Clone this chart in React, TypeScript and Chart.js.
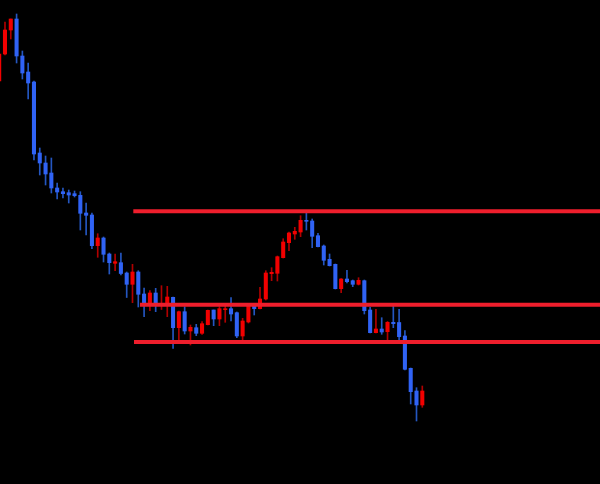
import React, { useEffect, useRef } from "react";
import { Chart, registerables } from "chart.js";

Chart.register(...registerables);

// OHLC values (points)
const opens = [419, 446, 470, 481, 444, 428, 418, 347, 337, 327, 312, 308.3, 307.3, 306.3, 304.7, 287, 285, 254.3, 262, 246, 236.7, 237.3, 227, 215.7, 228, 206, 195.7, 207, 195, 195, 202.7, 172.3, 188.3, 169, 172.3, 166.7, 175.3, 190, 181, 190.3, 191.3, 187.3, 164, 178, 194, 191.3, 201, 226.3, 226.7, 242.3, 257.3, 266, 268, 279.7, 279, 264.3, 254, 240.7, 235.7, 211.3, 221, 219.3, 215.7, 219.3, 190, 167.3, 171, 168.3, 177.7, 177.5, 164, 131.7, 109, 95];
const highs = [448, 478, 481, 486, 449, 437, 419, 352, 344, 342, 317, 312, 310, 309, 308.3, 297, 287, 266.3, 263, 247, 246, 247, 228, 235.7, 229.3, 212, 209.3, 211.7, 214.3, 213.7, 203, 189, 193.3, 175, 175.7, 178.3, 190, 190, 193.3, 195, 202.3, 188, 181.7, 196, 195, 212.7, 229.3, 232.3, 244, 261.3, 268, 272.7, 284.3, 287.3, 281, 266.7, 255, 246, 236, 221.5, 229.7, 220, 222.3, 220, 192.7, 190.7, 182.3, 178.5, 194, 190.7, 169.3, 132, 112.3, 114];
const lows = [417, 445, 461, 437, 421, 401, 340, 325, 315, 307, 301, 302, 297, 303, 270, 265, 251.3, 242.7, 238, 226, 229.3, 225, 202.5, 197.3, 193, 183.3, 189.3, 188.3, 190.5, 183.3, 151.7, 159, 166, 155, 164.3, 165.7, 175, 174.3, 174.3, 177.7, 179, 162.3, 159, 177, 185, 191, 200, 219.3, 219, 242, 249.3, 260.7, 263.3, 270, 252.3, 253, 235, 234, 211, 207.3, 217, 213.3, 215, 186, 167, 167, 165.7, 159, 172.3, 160, 130, 96, 79, 92.7];
const closes = [446, 470, 481, 444, 427, 417, 346, 337, 326, 312, 308, 306.3, 305, 304.3, 286.7, 284.7, 254.3, 262, 245.7, 237.3, 238.3, 226.5, 215.7, 228, 205.7, 195.7, 207, 196.7, 196.5, 203, 172.3, 188.3, 169, 172.7, 166.7, 176.3, 189.7, 181, 191.3, 191.3, 186, 164, 179, 194, 191.3, 201, 227, 227.7, 243.3, 258, 267, 268.7, 279.7, 278.7, 263.7, 253.3, 239.7, 234.3, 211.3, 221, 218.3, 215.7, 219.7, 189.3, 167.3, 171, 168, 177.7, 176.3, 163.3, 130.7, 108.3, 95, 109];

// Horizontal levels and the bar index where each starts
const levels = [288.7, 195.2, 158];
const levelStarts = [23.14, 24.29, 23.26];

const X_MIN = 0.14;
const X_MAX = 103.66;
const Y_MIN = 16;
const Y_MAX = 500;

const UP_BODY = "#f20000";
const UP_WICK = "#b00000";
const DOWN_BODY = "#3063f5";
const DOWN_WICK = "#2456c0";
const LEVEL_COLOR = "#ee1e2c";

export default function App() {
  const ref = useRef<HTMLCanvasElement | null>(null);

  useEffect(() => {
    if (!ref.current) return;
    const up = opens.map((o, i) => closes[i] >= o);
    const bodies = opens.map((o, i) => ({ x: i, y: [o, closes[i]] }));
    const wicks = lows.map((l, i) => ({ x: i, y: [l, highs[i]] }));

    const lineSets = levels.map((lv, k) => ({
      type: "line" as const,
      data: [
        { x: levelStarts[k], y: lv },
        { x: X_MAX, y: lv },
      ],
      borderColor: LEVEL_COLOR,
      borderWidth: 4,
      pointRadius: 0,
      fill: false,
      order: -1,
    }));

    const chart = new Chart(ref.current, {
      type: "bar",
      data: {
        datasets: [
          {
            type: "bar",
            data: bodies as any,
            backgroundColor: up.map((u) => (u ? UP_BODY : DOWN_BODY)),
            barThickness: 3.4,
            minBarLength: 1,
            grouped: false,
            borderWidth: 0,
            order: 0,
          },
          {
            type: "bar",
            data: wicks as any,
            backgroundColor: up.map((u) => (u ? UP_WICK : DOWN_WICK)),
            barThickness: 1,
            grouped: false,
            borderWidth: 0,
            order: 1,
          },
          ...(lineSets as any[]),
        ],
      },
      options: {
        animation: false,
        responsive: false,
        devicePixelRatio: 1,
        layout: { padding: 0 },
        plugins: { legend: { display: false }, tooltip: { enabled: false } },
        scales: {
          x: { type: "linear", min: X_MIN, max: X_MAX, display: false, offset: false },
          y: { type: "linear", min: Y_MIN, max: Y_MAX, display: false },
        },
      },
    });
    return () => chart.destroy();
  }, []);

  return (
    <div
      style={{
        position: "fixed",
        left: 0,
        top: 0,
        width: 600,
        height: 484,
        background: "#000",
      }}
    >
      <canvas ref={ref} width={600} height={484} />
    </div>
  );
}
